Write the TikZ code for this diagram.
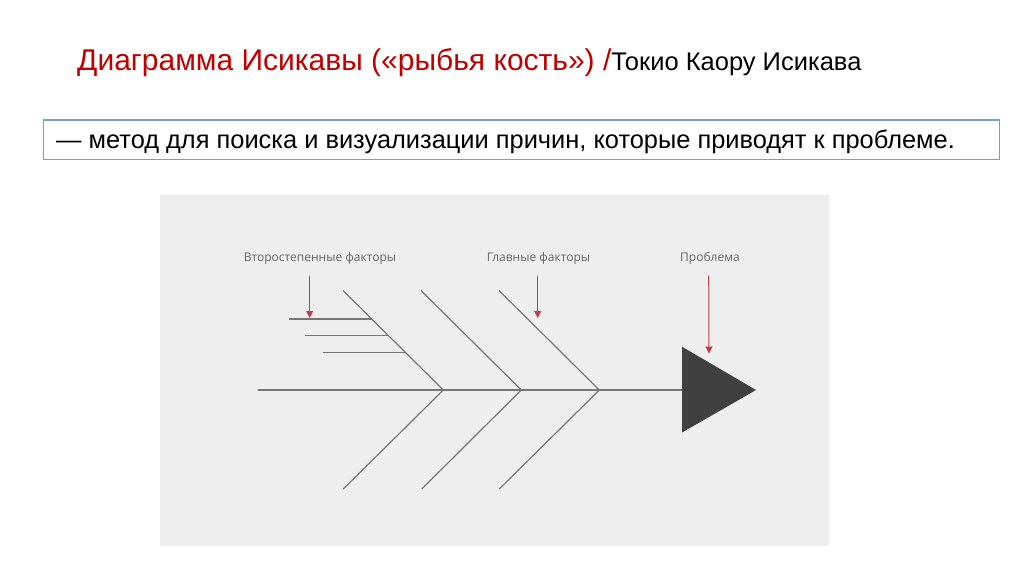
\documentclass[tikz,border=0pt]{standalone}
\usepackage{fontspec}
\setmainfont{Liberation Sans}
\newfontfamily\labelfont{Open Sans}
\usetikzlibrary{arrows.meta,calc}
\definecolor{titlered}{RGB}{192,0,0}
\definecolor{boxblue}{RGB}{120,162,188}
\definecolor{panelgray}{RGB}{238,238,238}
\definecolor{bonegray}{RGB}{118,118,118}
\definecolor{arrowred}{RGB}{190,60,80}
\definecolor{labelgray}{RGB}{100,100,100}
\definecolor{headgray}{RGB}{64,64,64}
\tikzset{
  bone/.style={draw=bonegray, line width=1.2pt},
  redarrow/.style={draw=arrowred, line width=1pt, -{Triangle[width=7pt,length=7pt]}},
  factorlabel/.style={text=labelgray, font=\labelfont\fontsize{12}{14}\selectfont, inner sep=1pt},
}
\begin{document}
\begin{tikzpicture}[x=1pt,y=-1pt]
\useasboundingbox (0,0) rectangle (1024,574);
\fill[white] (0,0) rectangle (1024,574);
% title
\node[anchor=base west, inner sep=0, font=\fontsize{30}{32}\selectfont] (title) at (77,70)
  {\textcolor{titlered}{Диаграмма Исикавы («рыбья кость») /}{\fontsize{25.5}{28}\selectfont Токио Каору Исикава}};
% definition box
\node[draw=boxblue, line width=1.2pt, fill=white, minimum width=956pt, minimum height=39.5pt, anchor=north west, inner sep=0] (defbox) at (42.7,119.3) {};
\node[anchor=base west, inner sep=0, font=\fontsize{25.4}{28}\selectfont] (deftext) at (56,148)
  {— метод для поиска и визуализации причин, которые приводят к проблеме.};
% panel
\fill[panelgray] (160,195) rectangle (829,546);
% coordinates
\coordinate (tail) at (257.5,390);
\coordinate (j1) at (443.3,390);
\coordinate (j2) at (521.3,390);
\coordinate (j3) at (599.3,390);
\coordinate (u1) at (343,290.5);
\coordinate (u2) at (421,290.5);
\coordinate (u3) at (499,290.5);
\coordinate (l1) at (343.3,489);
\coordinate (l2) at (421.7,489);
\coordinate (l3) at (499.3,489);
% head
\fill[headgray] (682,346.7) -- (756,390) -- (682,432.5) -- cycle;
\coordinate (headleft) at (682,390);
\coordinate (headtop) at (709,353.5);
% spine and bones
\draw[bone] (tail) -- (headleft);
\draw[bone] (u1) -- (j1) -- (l1);
\draw[bone] (u2) -- (j2) -- (l2);
\draw[bone] (u3) -- (j3) -- (l3);
% secondary bones
\coordinate (s1) at ($(u1)!0.287!(j1)$);
\coordinate (s2) at ($(u1)!0.451!(j1)$);
\coordinate (s3) at ($(u1)!0.619!(j1)$);
\coordinate (s1end) at (289,0 |- s1);
\coordinate (s2end) at (305,0 |- s2);
\coordinate (s3end) at (323,0 |- s3);
\draw[bone] (s1end) -- (s1);
\draw[bone] (s2end) -- (s2);
\draw[bone] (s3end) -- (s3);
% labels
\node[factorlabel] (lsec) at (320,258.7) {Второстепенные факторы};
\node[factorlabel] (lmain) at (538.5,258.7) {Главные факторы};
\node[factorlabel] (lprob) at (710,258.7) {Проблема};
\coordinate (a1) at (309.7,275.7);
\coordinate (a2) at (537.7,275.7);
\coordinate (a3) at (708.7,275.7);
\coordinate (t1) at (309.7,318);
\coordinate (t2) at (537.7,318);
\draw[redarrow] (a1) -- (t1);
\draw[redarrow] (a2) -- (t2);
\draw[redarrow] (a3) -- (headtop);
\end{tikzpicture}
\end{document}
